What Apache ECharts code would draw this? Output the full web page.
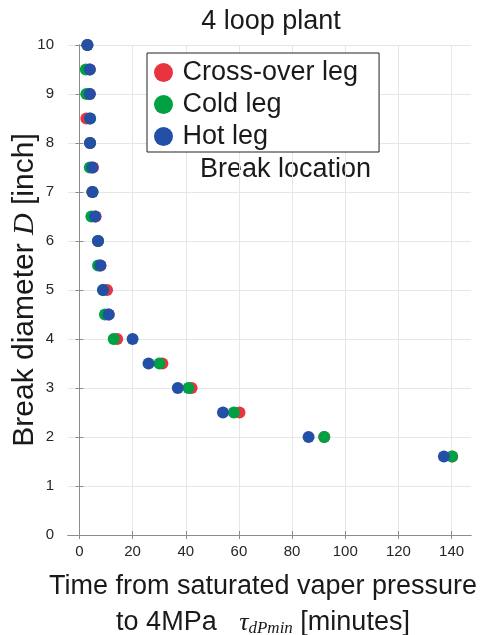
<!DOCTYPE html>
<html>
<head>
<meta charset="utf-8">
<script src="https://cdn.jsdelivr.net/npm/echarts@6/dist/echarts.min.js"></script>
<style>
  html, body { margin: 0; padding: 0; background: #fff; }
  #chart { width: 489px; height: 635px; }
</style>
</head>
<body>
<div id="chart"></div>
<script>
const diameters = [10, 9.5, 9, 8.5, 8, 7.5, 7, 6.5, 6, 5.5, 5, 4.5, 4, 3.5, 3, 2.5, 2, 1.6];
const crossOverLeg = [3.0, 3.9, 3.9, 2.6, 4.0, 5.1, 4.9, 6.1, 7.0, 7.9, 10.4, 11.0, 14.2, 31.2, 42.2, 60.2, 92.1, 140.2];
const coldLeg = [3.0, 2.4, 2.6, 4.0, 4.0, 3.9, 4.9, 4.5, 7.0, 7.0, 8.9, 9.6, 12.9, 30.1, 41.0, 58.1, 92.1, 140.2];
const hotLeg = [3.0, 3.9, 3.9, 4.0, 4.0, 4.9, 4.9, 5.9, 7.0, 7.9, 8.9, 11.0, 20.0, 26.0, 37.0, 54.0, 86.2, 137.1];
const xTicks = [0, 20, 40, 60, 80, 100, 120, 140];

const FONT = "Liberation Sans";
const AXIS_COLOR = "#8c8c8c";
const GRID_COLOR = "#e6e6e6";
const TICK_DEFAULT = { show: true, inside: true, length: 4, lineStyle: { color: AXIS_COLOR } };

function points(times) {
  return times.map((t, i) => [t, diameters[i]]);
}

let myChart = echarts.init(document.getElementById("chart"));

let option = {
  animation: false,
  textStyle: { fontFamily: FONT },
  title: {
    text: "4 loop plant",
    left: 266,
    textAlign: "center",
    top: 3,
    textStyle: { fontFamily: FONT, fontSize: 27, fontWeight: "normal", color: "#1a1a1a" },
  },
  legend: {
    orient: "vertical",
    left: 147,
    top: 53,
    icon: "circle",
    itemWidth: 28,
    itemHeight: 19,
    itemGap: 5,
    padding: [6, 21, 2, 7],
    borderColor: "#222",
    borderWidth: 1,
    backgroundColor: "#fff",
    textStyle: { fontFamily: FONT, fontSize: 27, color: "#1a1a1a" },
    data: ["Cross-over leg", "Cold leg", "Hot leg"],
  },
  graphic: [
    {
      type: "text",
      left: 200,
      top: 156,
      style: { text: "Break location", fontFamily: FONT, fontSize: 27, fill: "#1a1a1a" },
    },
  ],
  grid: { left: 68, right: 18, top: 45, bottom: 100, outerBoundsMode: "none" },
  xAxis: [
    {
      type: "value",
      min: -4.3,
      max: 147.3,
      name: "Time from saturated vaper pressure\n{n|to 4MPa   }{t|τ}{s|dPmin}{n| [minutes]}",
      nameLocation: "middle",
      nameGap: 34,
      nameMoveOverlap: false,
      nameTextStyle: {
        fontFamily: FONT,
        fontSize: 27,
        color: "#1a1a1a",
        lineHeight: 36,
        padding: [0, 13, 0, 0],
        rich: {
          n: { fontFamily: FONT, fontSize: 27, color: "#1a1a1a", lineHeight: 36 },
          t: { fontFamily: "Liberation Serif", fontStyle: "italic", fontSize: 26, color: "#1a1a1a", lineHeight: 36 },
          s: { fontFamily: "Liberation Serif", fontStyle: "italic", fontSize: 17, color: "#1a1a1a", lineHeight: 36, padding: [12, 0, 0, 0] },
        },
      },
      axisLine: { show: true, lineStyle: { color: AXIS_COLOR } },
      axisTick: { ...TICK_DEFAULT, customValues: xTicks },
      axisLabel: { customValues: xTicks, fontSize: 15, color: "#262626", margin: 9 },
      splitLine: { show: true, lineStyle: { color: GRID_COLOR } },
    },
    {
      type: "value",
      position: "top",
      min: -4.3,
      max: 147.3,
      axisLine: { show: true, lineStyle: { color: AXIS_COLOR } },
      axisTick: { ...TICK_DEFAULT, customValues: xTicks },
      axisLabel: { show: false },
      splitLine: { show: false },
    },
  ],
  yAxis: [
    {
      type: "value",
      min: 0,
      max: 10,
      interval: 1,
      name: "Break diameter {i|D} [inch]",
      nameLocation: "middle",
      nameGap: 28,
      nameMoveOverlap: false,
      nameTextStyle: {
        fontFamily: FONT,
        fontSize: 30,
        color: "#1a1a1a",
        rich: {
          i: { fontFamily: "Liberation Serif", fontStyle: "italic", fontSize: 30, color: "#1a1a1a" },
        },
      },
      axisLine: { show: true, lineStyle: { color: AXIS_COLOR } },
      axisTick: { ...TICK_DEFAULT },
      axisLabel: { fontSize: 15, color: "#262626", margin: 14 },
      splitLine: { show: true, lineStyle: { color: GRID_COLOR } },
    },
    {
      type: "value",
      position: "right",
      min: 0,
      max: 10,
      interval: 1,
      axisLine: { show: true, lineStyle: { color: AXIS_COLOR } },
      axisTick: { ...TICK_DEFAULT },
      axisLabel: { show: false },
      splitLine: { show: false },
    },
  ],
  series: [
    {
      name: "Cross-over leg",
      type: "scatter",
      symbolSize: 12,
      itemStyle: { color: "#e8343f", opacity: 1 },
      data: points(crossOverLeg),
    },
    {
      name: "Cold leg",
      type: "scatter",
      symbolSize: 12,
      itemStyle: { color: "#00a142", opacity: 1 },
      data: points(coldLeg),
    },
    {
      name: "Hot leg",
      type: "scatter",
      symbolSize: 12,
      itemStyle: { color: "#2350a6", opacity: 1 },
      data: points(hotLeg),
    },
  ],
};

option && myChart.setOption(option);
</script>
</body>
</html>
